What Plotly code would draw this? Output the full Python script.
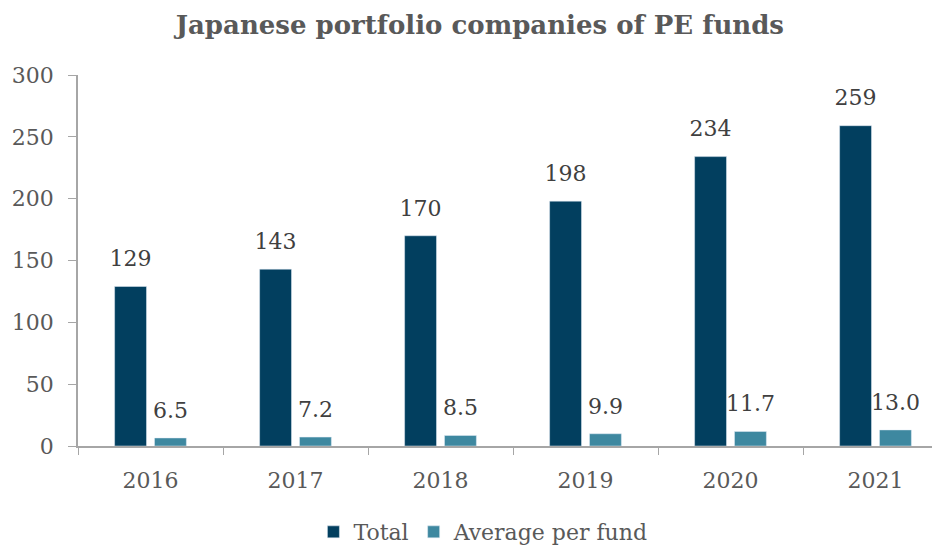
import plotly.graph_objects as go

# Dados do gráfico
anos = ["2016", "2017", "2018", "2019", "2020", "2021"]
total = [129, 143, 170, 198, 234, 259]
media_por_fundo = [6.5, 7.2, 8.5, 9.9, 11.7, 13.0]

COR_TOTAL = "#023F5F"
COR_MEDIA = "#3E88A0"
COR_TEXTO = "#595959"
COR_ROTULO = "#404040"
FONTE = "DejaVu Serif"

fig = go.Figure()
fig.add_trace(go.Bar(
    x=anos, y=total, name="Total",
    marker_color=COR_TOTAL, offsetgroup="a",
))
fig.add_trace(go.Bar(
    x=anos, y=media_por_fundo, name="Average per fund",
    marker_color=COR_MEDIA, offsetgroup="b",
))

# Rótulos de dados (scatter com marcador invisível, agrupado como as barras)
for valores, grupo, fmt in [(total, "a", "{:d}"), (media_por_fundo, "b", "{:.1f}")]:
    fig.add_trace(go.Scatter(
        x=anos, y=valores, mode="markers+text", offsetgroup=grupo,
        marker=dict(size=22, opacity=0),
        text=[fmt.format(v) for v in valores], textposition="top center",
        textfont=dict(size=22, color=COR_ROTULO, family=FONTE),
        showlegend=False, hoverinfo="skip", cliponaxis=False,
    ))

fig.update_layout(
    width=940, height=548,
    title=dict(
        text="<b>Japanese portfolio companies of PE funds</b>",
        x=0.502, xanchor="center", y=0.97, yanchor="middle",
        font=dict(size=26, color=COR_TEXTO, family=FONTE),
    ),
    font=dict(family=FONTE, color=COR_TEXTO, size=22),
    barmode="group",
    bargap=0.45,
    bargroupgap=0.2,
    scattermode="group",
    scattergap=0.45,
    plot_bgcolor="white",
    paper_bgcolor="white",
    margin=dict(l=70, r=0, t=67, b=110),
    xaxis=dict(
        showline=True, linecolor="#A6A6A6", linewidth=1.5,
        ticks="outside", tickson="boundaries", ticklen=7, tickcolor="#A6A6A6",
        ticklabelstandoff=14,
        tickfont=dict(size=22, color=COR_TEXTO),
    ),
    yaxis=dict(
        range=[0, 300], dtick=50,
        showgrid=False, zeroline=False,
        showline=True, linecolor="#A6A6A6", linewidth=1.5,
        ticks="outside", ticklen=8, tickcolor="#A6A6A6",
        ticklabelstandoff=10,
        tickfont=dict(size=22, color=COR_TEXTO),
    ),
    legend=dict(
        orientation="h", x=0.466, xanchor="center", y=-0.232, yanchor="middle",
        font=dict(size=22, color=COR_TEXTO),
        itemwidth=30,
    ),
)

fig.write_html("out.html")
